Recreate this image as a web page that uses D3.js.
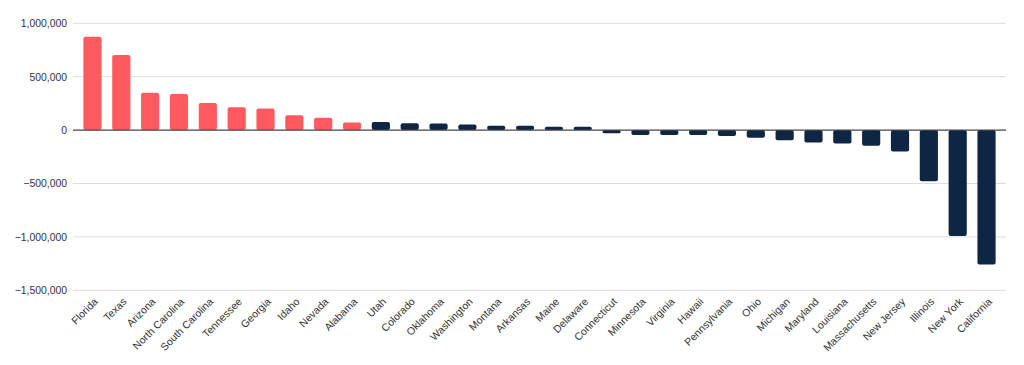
<!DOCTYPE html>
<html><head><meta charset="utf-8">
<script src="https://cdn.jsdelivr.net/npm/d3@7"></script>
<style>body{margin:0;background:#fff}svg{display:block}</style>
</head><body>
<svg id="c" width="1024" height="365"></svg>
<script>
const states = ["Florida","Texas","Arizona","North Carolina","South Carolina","Tennessee","Georgia","Idaho","Nevada","Alabama","Utah","Colorado","Oklahoma","Washington","Montana","Arkansas","Maine","Delaware","Connecticut","Minnesota","Virginia","Hawaii","Pennsylvania","Ohio","Michigan","Maryland","Louisiana","Massachusetts","New Jersey","Illinois","New York","California"];
const values = [875000,703000,350000,338000,253000,213000,203000,138000,116000,72000,75000,63000,62000,53000,41000,41000,31000,31000,-30000,-47000,-46000,-45000,-56000,-72000,-94000,-116000,-125000,-147000,-200000,-478000,-991000,-1259000];
const highlighted = ["Florida","Texas","Arizona","North Carolina","South Carolina","Tennessee","Georgia","Idaho","Nevada","Alabama"];
const yTicks = [1000000,500000,0,-500000,-1000000,-1500000];

(function(){
const svg = d3.select("#c");
const mLeft = 73, mRight = 1006, mTop = 23.3, mBottom = 290.3;
const y = d3.scaleLinear().domain([-1500000,1000000]).range([mBottom, mTop]);
const x = d3.scaleBand().domain(states).range([mLeft, mRight]).paddingInner(0.37).paddingOuter(0.36);

svg.append("g").selectAll("line").data(yTicks.filter(d=>d!==0)).join("line")
  .attr("x1", mLeft).attr("x2", mRight)
  .attr("y1", d=>y(d)).attr("y2", d=>y(d))
  .attr("stroke", "#dcdcdc").attr("stroke-width", 1);

const yAxis = d3.axisLeft(y).tickValues(yTicks).tickSize(0).tickPadding(6).tickFormat(d3.format(","));
const ya = svg.append("g").attr("transform", `translate(${mLeft},0)`).call(yAxis);
ya.select(".domain").remove();
ya.selectAll("text").attr("font-family","Liberation Sans, Arial, sans-serif").attr("font-size", 10.4).attr("fill","#333");

svg.append("g").selectAll("rect").data(states).join("rect")
  .attr("x", d=>x(d))
  .attr("width", x.bandwidth())
  .attr("y", (d,i)=>Math.min(y(values[i]), y(0)))
  .attr("height", (d,i)=>Math.abs(y(values[i]) - y(0)))
  .attr("rx", 2).attr("ry", 2)
  .attr("fill", d=>highlighted.includes(d) ? "#ff5a5f" : "#0e2644");

svg.append("line").attr("x1", mLeft).attr("x2", mRight).attr("y1", y(0)).attr("y2", y(0))
  .attr("stroke", "#444").attr("stroke-width", 1.2);

const xAxis = d3.axisBottom(x).tickSize(0).tickPadding(0);
const xa = svg.append("g").attr("transform", `translate(0,${mBottom})`).call(xAxis);
xa.select(".domain").remove();
xa.selectAll("text")
  .attr("font-family","Liberation Sans, Arial, sans-serif").attr("font-size", 10.5).attr("fill","#333")
  .attr("text-anchor","end").attr("dy", null).attr("y", 0)
  .attr("transform", "translate(6,12) rotate(-45)");
})();
</script>
</body></html>
